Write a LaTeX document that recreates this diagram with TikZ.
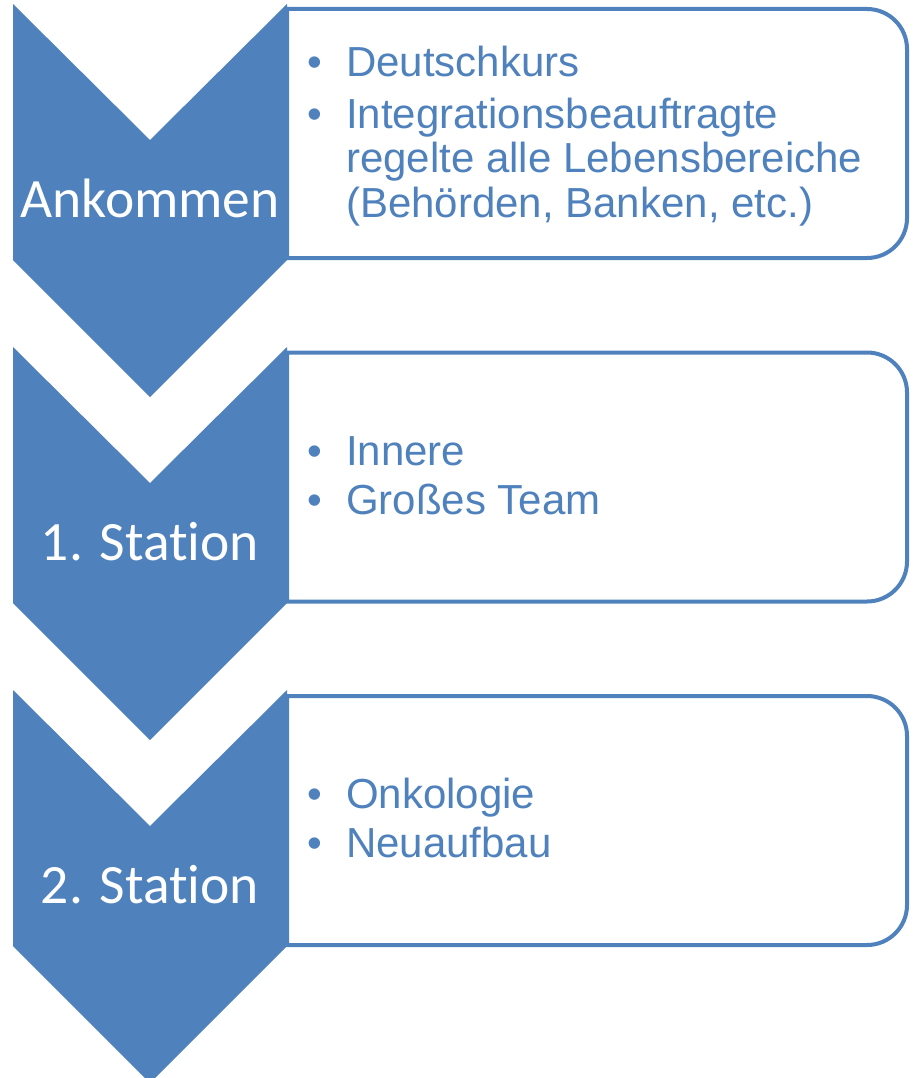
\documentclass[tikz,border=0pt]{standalone}
\usepackage{fontspec}
\setmainfont{Liberation Sans}
\newfontfamily\chevfont[RawFeature={-liga;-clig;-calt}]{Carlito}
\newfontfamily\boxfont{Liberation Sans}
\definecolor{accblue}{RGB}{79,129,189}
\begin{document}
\begin{tikzpicture}[x=1pt,y=-1pt,
  chev/.style={fill=accblue,draw=none},
  listbox/.style={draw=accblue,line width=4pt,fill=white},
  chevlabel/.style={text=white,font=\chevfont\fontsize{55.5}{60}\selectfont,inner sep=0pt,anchor=base},
  itemtext/.style={text=accblue,font=\boxfont\fontsize{42}{46}\selectfont,inner sep=0pt,anchor=base west},
  bullet/.style={text=accblue,font=\boxfont\fontsize{42}{46}\selectfont,inner sep=0pt,anchor=base west}]
\useasboundingbox (0,0) rectangle (915,1078);
\begin{scope}
\clip (0,0) rectangle (915,1078);
% boxes
\foreach \o in {0,343.5,687}{
  \draw[listbox] (287,9+\o) -- (867,9+\o) arc[start angle=-90,end angle=0,radius=40]
     -- (907,218+\o) arc[start angle=0,end angle=90,radius=40] -- (287,258+\o) -- cycle;
}
% chevrons
\foreach \o in {0,343,686}{
  \fill[chev] (13,4+\o) -- (150,140+\o) -- (287,4+\o) -- (287,260+\o) -- (150,397+\o) -- (13,260+\o) -- cycle;
}
\end{scope}
% chevron labels
\node[chevlabel] (c1) at (150,218) {Ankommen};
\node[chevlabel] (c2) at (150,560) {1. Station};
\node[chevlabel] (c3) at (150,903) {2. Station};
% box 1
\node[bullet] (b1a) at (307,77) {•};
\node[itemtext] (t1a) at (346,77) {Deutschkurs};
\node[bullet] (b1b) at (307,129) {•};
\node[itemtext] (t1b) at (346,129) {Integrationsbeauftragte};
\node[itemtext] (t1c) at (346,173) {regelte alle Lebensbereiche};
\node[itemtext] (t1d) at (346,217) {(Behörden, Banken, etc.)};
% box 2
\node[bullet] (b2a) at (307,465) {•};
\node[itemtext] (t2a) at (346,465) {Innere};
\node[bullet] (b2b) at (307,514) {•};
\node[itemtext] (t2b) at (346,514) {Großes Team};
% box 3
\node[bullet] (b3a) at (307,808) {•};
\node[itemtext] (t3a) at (346,808) {Onkologie};
\node[bullet] (b3b) at (307,857) {•};
\node[itemtext] (t3b) at (346,857) {Neuaufbau};
\end{tikzpicture}
\end{document}
